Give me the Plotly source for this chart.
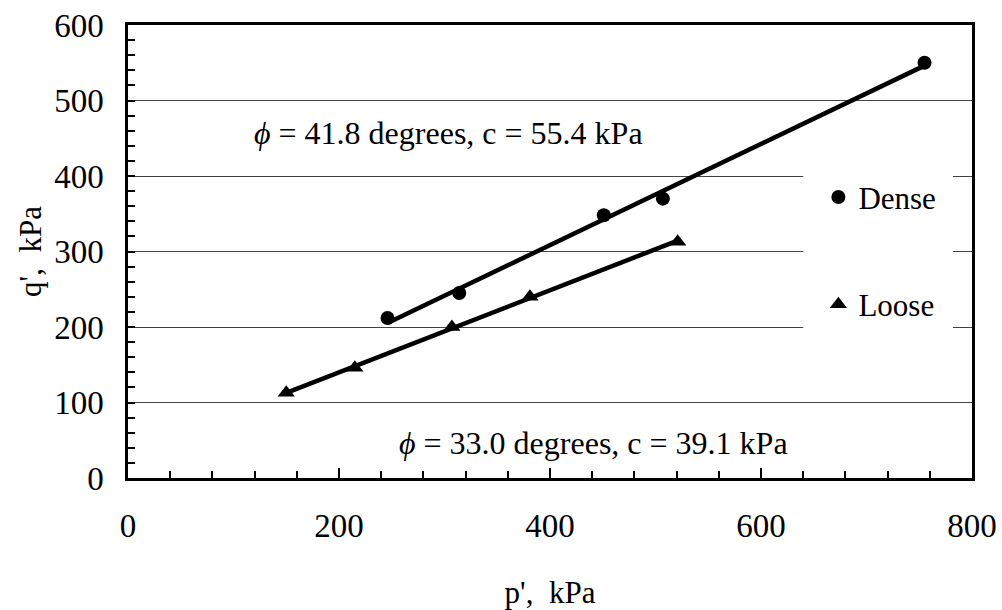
import numpy as np
import plotly.graph_objects as go

# Data
dense_p = [246, 314, 451, 507, 755]
dense_q = [212, 245, 348, 370, 550]
loose_p = [150, 215, 307, 381, 521]
loose_q = [113, 146, 200, 240, 313]

series_names = ["Dense", "Loose"]
ann_dense = "<i>ϕ</i> = 41.8 degrees, c = 55.4 kPa"
ann_loose = "<i>ϕ</i> = 33.0 degrees, c = 39.1 kPa"
x_ticks = [0, 200, 400, 600, 800]
y_ticks = [0, 100, 200, 300, 400, 500, 600]

FONT = "Liberation Serif, Times New Roman, serif"


def fit_line(xs, ys):
    m, b = np.polyfit(xs, ys, 1)
    x0, x1 = min(xs), max(xs)
    return [x0, x1], [m * x0 + b, m * x1 + b]


fig = go.Figure()
for xs, ys in [(dense_p, dense_q), (loose_p, loose_q)]:
    lx, ly = fit_line(xs, ys)
    fig.add_trace(go.Scatter(x=lx, y=ly, mode="lines", showlegend=False,
                             line=dict(color="black", width=4.5), hoverinfo="skip"))

fig.add_trace(go.Scatter(x=dense_p, y=dense_q, mode="markers", name=series_names[0],
                         legendgroup="d",
                         marker=dict(symbol="circle", size=14, color="black")))
fig.add_trace(go.Scatter(x=loose_p, y=loose_q, mode="markers", name=series_names[1],
                         legendgroup="l",
                         marker=dict(symbol="triangle-up", size=15, color="black")))

fig.add_annotation(x=304, y=457, text=ann_dense, showarrow=False,
                   font=dict(family=FONT, size=32, color="black"))
fig.add_annotation(x=441.5, y=46, text=ann_loose, showarrow=False,
                   font=dict(family=FONT, size=32, color="black"))

# white legend-box background hiding the gridlines behind the legend
fig.add_shape(type="rect", xref="x", yref="y",
              x0=640, x1=782, y0=170, y1=430,
              fillcolor="white", line=dict(width=0), layer="between")

fig.update_layout(
    width=1002, height=610,
    margin=dict(l=128, r=30, t=25, b=132, autoexpand=False),
    paper_bgcolor="white", plot_bgcolor="white",
    font=dict(family=FONT, size=33, color="black"),
    legend=dict(x=0.818, xanchor="left", y=0.679, yanchor="top",
                bgcolor="white", borderwidth=0, traceorder="grouped",
                tracegroupgap=64, font=dict(family=FONT, size=31, color="black")),
)
fig.update_xaxes(
    range=[0, 800], tickvals=x_ticks, ticks="inside", ticklen=10, tickwidth=2,
    tickcolor="black", showgrid=False, zeroline=False, automargin=False,
    showline=True, linewidth=2.5, linecolor="black", mirror=True,
    minor=dict(dtick=40, ticks="inside", ticklen=7, tickwidth=2, tickcolor="black", showgrid=False),
    ticklabelstandoff=17, tickfont=dict(family=FONT, size=33),
    title=dict(text="p',\u00a0 kPa", standoff=45, font=dict(family=FONT, size=31)),
)
fig.update_yaxes(
    range=[0, 600], tickvals=y_ticks, ticks="inside", ticklen=7, tickwidth=2,
    tickcolor="black", showgrid=True, gridcolor="#444444", gridwidth=1, zeroline=False,
    automargin=False,
    showline=True, linewidth=2.5, linecolor="black", mirror=True,
    minor=dict(dtick=20, ticks="inside", ticklen=7, tickwidth=2, tickcolor="black", showgrid=False),
    ticklabelstandoff=15, tickfont=dict(family=FONT, size=33),
    title=dict(text="q',\u00a0 kPa", standoff=4, font=dict(family=FONT, size=31)),
)

fig.write_html("out.html", config={"displayModeBar": False},
               post_script="document.body.style.margin='0';document.body.style.overflow='hidden';")
